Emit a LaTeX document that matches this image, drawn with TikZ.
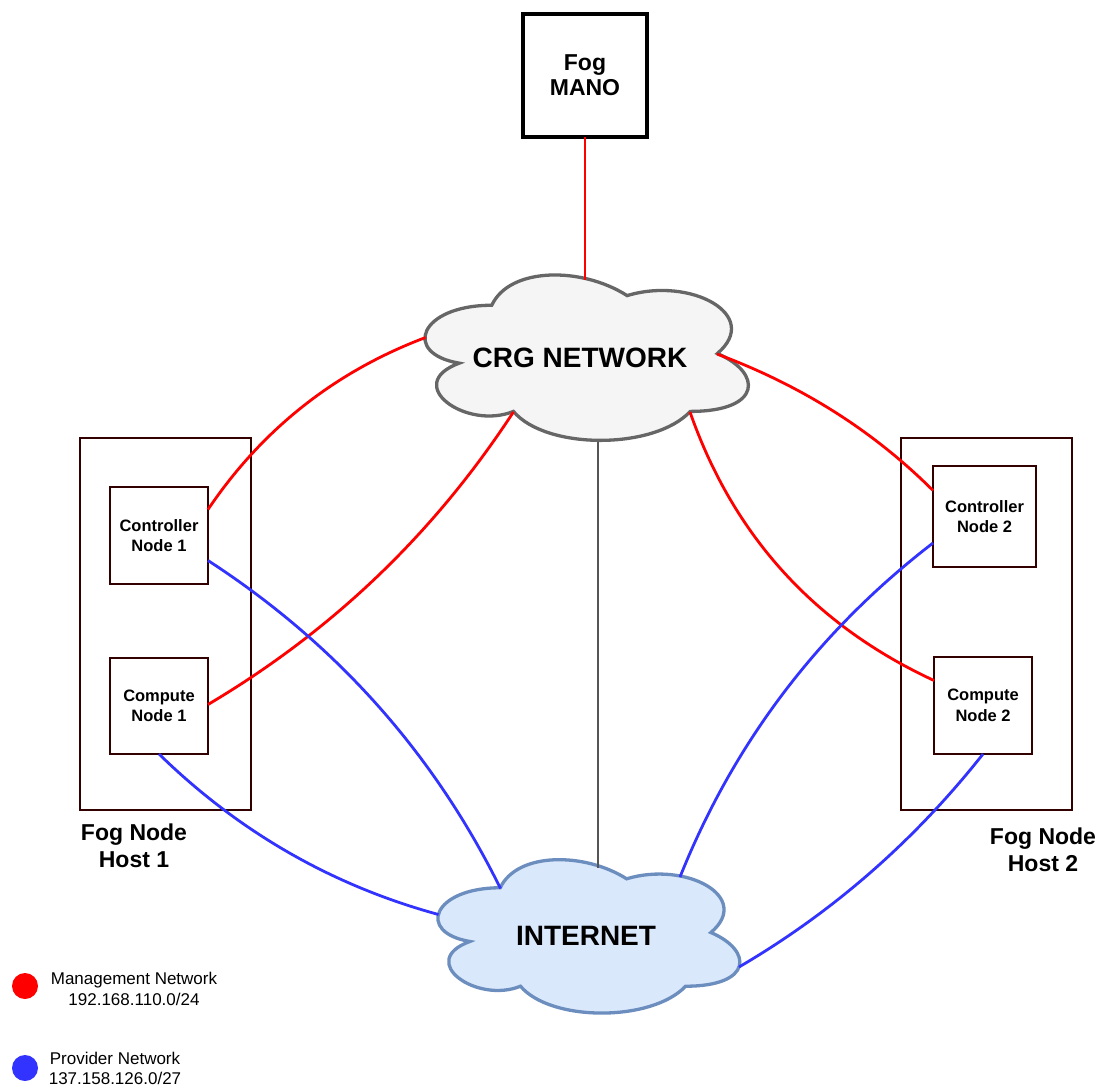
\documentclass[tikz,border=0pt]{standalone}
\usepackage{fontspec}
\setmainfont{Liberation Sans}
\definecolor{mgmtred}{HTML}{FF0000}
\definecolor{provblue}{HTML}{3333FF}
\definecolor{boxbrown}{HTML}{330000}
\definecolor{crgfill}{HTML}{F5F5F5}
\definecolor{crgline}{HTML}{666666}
\definecolor{netfill}{HTML}{DAE8FC}
\definecolor{netline}{HTML}{6C8EBF}
\definecolor{trunk}{HTML}{555555}

% Cloud outline: style, left, top, width, height (in pt, y downwards)
\newcommand{\drawcloud}[5]{%
  \begin{scope}[shift={(#2,#3)}, x=#4pt, y=-#5pt]
    \draw[#1] (0.25,0.25) .. controls (0.05,0.25) and (0,0.5) .. (0.16,0.55)
      .. controls (0,0.66) and (0.18,0.9) .. (0.31,0.8)
      .. controls (0.4,1) and (0.7,1) .. (0.8,0.8)
      .. controls (1,0.8) and (1,0.6) .. (0.875,0.5)
      .. controls (1,0.3) and (0.8,0.1) .. (0.625,0.2)
      .. controls (0.5,0.05) and (0.3,0.05) .. (0.25,0.25) -- cycle;
  \end{scope}}

\begin{document}
\begin{tikzpicture}[x=1pt, y=-1pt,
  hostbox/.style={draw=boxbrown, line width=2.7pt, inner sep=0pt, outer sep=0pt},
  nodebox/.style={draw=boxbrown, line width=2.7pt, fill=white, inner sep=0pt,
    outer sep=0pt, align=center, font=\fontsize{16.5}{20.5}\selectfont\bfseries},
  manobox/.style={draw=black, line width=3.2pt, fill=white, inner sep=0pt,
    outer sep=0pt, align=center, font=\fontsize{23}{25}\selectfont\bfseries},
  hostlabel/.style={align=center, font=\fontsize{23}{27}\selectfont\bfseries},
  cloudlabel/.style={font=\fontsize{28}{32}\selectfont\bfseries},
  mgmt/.style={draw=mgmtred, line width=2.8pt},
  prov/.style={draw=provblue, line width=2.8pt},
  link/.style={draw=trunk, line width=2.8pt},
  legendtext/.style={align=center, font=\fontsize{17}{21.5}\selectfont}]

\useasboundingbox (0,0) rectangle (1100,1088);

% hosts and the nodes they carry
\node[hostbox, minimum width=171pt, minimum height=372pt] (host1) at (165.5,624) {};
\node[hostbox, minimum width=171pt, minimum height=372pt] (host2) at (986.5,624) {};
\node[nodebox, minimum width=98pt, minimum height=97pt] (ctrl1) at (159,535.5) {Controller\\Node 1};
\node[nodebox, minimum width=98pt, minimum height=96pt] (comp1) at (159,706) {Compute\\Node 1};
\node[nodebox, minimum width=103pt, minimum height=101pt] (ctrl2) at (984.5,516.5) {Controller\\Node 2};
\node[nodebox, minimum width=98pt, minimum height=97pt] (comp2) at (983,705.5) {Compute\\Node 2};
\node[manobox, minimum width=124pt, minimum height=123pt] (mano) at (585,75.5) {Fog\\MANO};

\node[hostlabel] (host1lbl) at (134,846) {Fog Node\\Host 1};
\node[hostlabel] (host2lbl) at (1043,850) {Fog Node\\Host 2};

% clouds
\drawcloud{draw=crgline, fill=crgfill, line width=3.3pt}{401.5}{257}{361}{193}
\drawcloud{draw=netline, fill=netfill, line width=3.3pt}{416}{843}{337}{179}

% attachment points on the cloud outlines
\coordinate (crgT)  at (585,279.5);
\coordinate (crgL)  at (425.5,337.5);
\coordinate (crgBL) at (513.4,412);
\coordinate (crgR)  at (717,354);
\coordinate (crgBR) at (690,412);
\coordinate (crgB)  at (598,441.5);
\coordinate (netT)  at (598,867.5);
\coordinate (netTL) at (500.5,888.5);
\coordinate (netL)  at (438.5,914.5);
\coordinate (netTR) at (680,877);
\coordinate (netR)  at (739,967);

% management network
\draw[mgmt] (mano.south) -- (crgT);
\draw[mgmt] (crgL) .. controls (335.4,371.5) and (262.3,428.9) .. ([yshift=26pt]ctrl1.east);
\draw[mgmt] (crgBL) .. controls (432.9,535.2) and (331.1,631.5) .. ([yshift=1.5pt]comp1.east);
\draw[mgmt] (crgR) .. controls (798.9,384.5) and (871.4,429.0) .. ([yshift=26pt]ctrl2.west);
\draw[mgmt] (crgBR) .. controls (733.7,536.8) and (815.4,625.5) .. ([yshift=25pt]comp2.west);

% provider network
\draw[prov] ([yshift=-25pt]ctrl1.east) .. controls (335.2,643) and (433.3,752.3) .. (netTL);
\draw[prov] (comp1.south) .. controls (239.1,832.2) and (332.7,885.7) .. (netL);
\draw[prov] ([yshift=-26.5pt]ctrl2.west) .. controls (818.2,631.3) and (733.7,742.9) .. (netTR);
\draw[prov] (comp2.south) .. controls (914.4,840.9) and (833,912) .. (netR);

% uplink between the clouds
\draw[link] (crgB) -- (netT);

\node[cloudlabel] (crg) at (580,358) {CRG NETWORK};
\node[cloudlabel] (net) at (586,936) {INTERNET};

% legend
\fill[mgmtred] (25,986) circle (13) node (legred) {};
\fill[provblue] (25,1068) circle (13) node (legblue) {};
\node[legendtext] (legmgmt) at (134,989) {Management Network\\192.168.110.0/24};
\node[legendtext, font=\fontsize{17}{19.5}\selectfont] (legprov) at (115,1068.5) {Provider Network\\137.158.126.0/27};

\end{tikzpicture}
\end{document}
